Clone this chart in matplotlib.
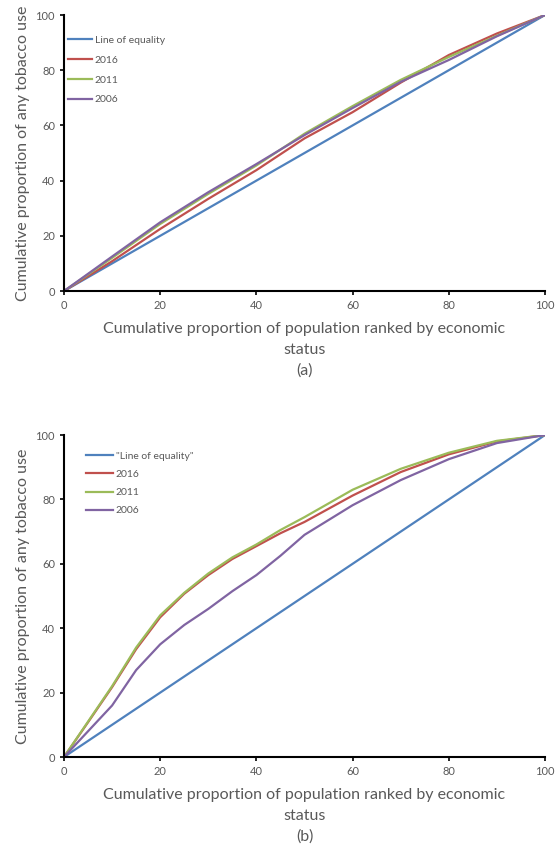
import matplotlib
matplotlib.use('Agg')
import matplotlib.pyplot as plt

# panel (a) - concentration curves
x_a = [0, 10, 20, 30, 40, 50, 60, 70, 80, 90, 100]
a_2016 = [0, 10.8, 22.5, 33.4, 43.8, 55.3, 64.8, 75.5, 85.5, 93.3, 100]
a_2011 = [0, 12, 24.3, 35.2, 45.5, 57, 67, 76.5, 84.8, 92.5, 100]
a_2006 = [0, 12.5, 24.9, 35.8, 46, 56.5, 66.3, 75.8, 83.7, 92.3, 100]

# panel (b)
x_b = [0, 5, 10, 15, 20, 25, 30, 35, 40, 45, 50, 60, 70, 80, 90, 100]
b_2016 = [0, 10.8, 21.7, 33.5, 43.4, 50.7, 56.5, 61.5, 65.5, 69.5, 73, 81.2, 88.5, 94, 98, 100]
b_2011 = [0, 11, 22, 34, 44, 51, 57, 62, 66, 70.5, 74.5, 83, 89.5, 94.5, 98.2, 100]
b_2006 = [0, 8, 16, 27, 35, 41, 46, 51.5, 56.5, 62.5, 69, 78.2, 86, 92.5, 97.5, 100]

equality = [0, 100]
ticks = [0, 20, 40, 60, 80, 100]

BLUE = '#4F81BD'
RED = '#C0504D'
GREEN = '#9BBB59'
PURPLE = '#8064A2'
GREY = '#595959'

plt.rcParams['font.family'] = ['Lato', 'DejaVu Sans']

fig = plt.figure(figsize=(5.55, 8.48), dpi=100)
ax1 = fig.add_axes([0.1153, 0.6568, 0.8667, 0.3255])
ax2 = fig.add_axes([0.1153, 0.1073, 0.8667, 0.3797])

panels = [
    (ax1, x_a, a_2016, a_2011, a_2006, 'Line of equality', '(a)'),
    (ax2, x_b, b_2016, b_2011, b_2006, '"Line of equality"', '(b)'),
]

for ax, xs, y16, y11, y06, eq_label, tag in panels:
    ax.plot(equality, equality, color=BLUE, lw=1.6, label=eq_label)
    ax.plot(xs, y16, color=RED, lw=1.6, label='2016')
    ax.plot(xs, y11, color=GREEN, lw=1.6, label='2011')
    ax.plot(xs, y06, color=PURPLE, lw=1.6, label='2006')

    ax.set_xlim(0, 100)
    ax.set_ylim(0, 100)
    ax.set_xticks(ticks)
    ax.set_yticks(ticks)
    ax.tick_params(labelsize=8, labelcolor=GREY, length=3, width=1.2, color='black')
    for side in ['top', 'right']:
        ax.spines[side].set_visible(False)
    for side in ['left', 'bottom']:
        ax.spines[side].set_linewidth(1.5)

    ax.set_ylabel('Cumulative proportion of any tobacco use', fontsize=11.5, color=GREY)
    ax.set_xlabel('Cumulative proportion of population ranked by economic\nstatus\n' + tag,
                  fontsize=11.5, color=GREY, linespacing=1.6, labelpad=8)

# legends sit a little differently in the two panels
leg1 = ax1.legend(loc='upper left', bbox_to_anchor=(0.008, 0.926), frameon=False,
                  fontsize=7.5, handlelength=2.3, handletextpad=0.3, labelspacing=1.02,
                  borderaxespad=0, borderpad=0)
leg2 = ax2.legend(loc='upper left', bbox_to_anchor=(0.046, 0.949), frameon=False,
                  fontsize=7.5, handlelength=2.6, handletextpad=0.25, labelspacing=0.86,
                  borderaxespad=0, borderpad=0)
for leg in (leg1, leg2):
    for t in leg.get_texts():
        t.set_color(GREY)

fig.savefig('out.png', dpi=100)
